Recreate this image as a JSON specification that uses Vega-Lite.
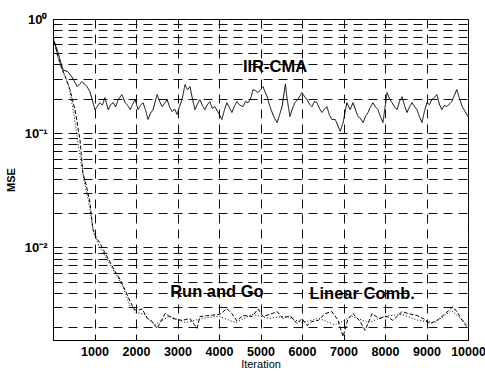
{
  "$schema": "https://vega.github.io/schema/vega-lite/v6.json",
  "autosize": {"type": "none"},
  "padding": {"left": 53, "top": 19, "right": 17, "bottom": 31},
  "width": 415,
  "height": 321,
  "background": "white",
  "config": {
    "view": {"stroke": "black", "strokeWidth": 1},
    "font": "Liberation Sans",
    "axis": {
      "domainColor": "black",
      "tickColor": "black",
      "labelColor": "black",
      "titleColor": "black",
      "gridColor": "#111",
      "gridDash": [9, 6],
      "gridWidth": 1,
      "gridOpacity": 1,
      "labelFont": "Liberation Sans",
      "titleFont": "Liberation Sans",
      "labelFontWeight": "bold",
      "labelFontSize": 12.5,
      "titleFontSize": 11,
      "titleFontWeight": "normal"
    }
  },
  "datasets": {
    "curves": [
      {"series": "IIR-CMA", "iteration": 0, "mse": 0.66},
      {"series": "IIR-CMA", "iteration": 100, "mse": 0.54},
      {"series": "IIR-CMA", "iteration": 170, "mse": 0.44},
      {"series": "IIR-CMA", "iteration": 240, "mse": 0.36},
      {"series": "IIR-CMA", "iteration": 360, "mse": 0.345},
      {"series": "IIR-CMA", "iteration": 460, "mse": 0.31},
      {"series": "IIR-CMA", "iteration": 580, "mse": 0.256},
      {"series": "IIR-CMA", "iteration": 700, "mse": 0.283},
      {"series": "IIR-CMA", "iteration": 820, "mse": 0.256},
      {"series": "IIR-CMA", "iteration": 890, "mse": 0.231},
      {"series": "IIR-CMA", "iteration": 1010, "mse": 0.161},
      {"series": "IIR-CMA", "iteration": 1070, "mse": 0.172},
      {"series": "IIR-CMA", "iteration": 1130, "mse": 0.185},
      {"series": "IIR-CMA", "iteration": 1190, "mse": 0.176},
      {"series": "IIR-CMA", "iteration": 1250, "mse": 0.205},
      {"series": "IIR-CMA", "iteration": 1330, "mse": 0.161},
      {"series": "IIR-CMA", "iteration": 1390, "mse": 0.178},
      {"series": "IIR-CMA", "iteration": 1450, "mse": 0.185},
      {"series": "IIR-CMA", "iteration": 1510, "mse": 0.17},
      {"series": "IIR-CMA", "iteration": 1570, "mse": 0.197},
      {"series": "IIR-CMA", "iteration": 1660, "mse": 0.218},
      {"series": "IIR-CMA", "iteration": 1740, "mse": 0.185},
      {"series": "IIR-CMA", "iteration": 1800, "mse": 0.175},
      {"series": "IIR-CMA", "iteration": 1860, "mse": 0.161},
      {"series": "IIR-CMA", "iteration": 1920, "mse": 0.18},
      {"series": "IIR-CMA", "iteration": 1980, "mse": 0.197},
      {"series": "IIR-CMA", "iteration": 2050, "mse": 0.161},
      {"series": "IIR-CMA", "iteration": 2110, "mse": 0.176},
      {"series": "IIR-CMA", "iteration": 2170, "mse": 0.185},
      {"series": "IIR-CMA", "iteration": 2230, "mse": 0.16},
      {"series": "IIR-CMA", "iteration": 2290, "mse": 0.132},
      {"series": "IIR-CMA", "iteration": 2350, "mse": 0.15},
      {"series": "IIR-CMA", "iteration": 2410, "mse": 0.161},
      {"series": "IIR-CMA", "iteration": 2510, "mse": 0.218},
      {"series": "IIR-CMA", "iteration": 2570, "mse": 0.19},
      {"series": "IIR-CMA", "iteration": 2630, "mse": 0.171},
      {"series": "IIR-CMA", "iteration": 2690, "mse": 0.183},
      {"series": "IIR-CMA", "iteration": 2750, "mse": 0.197},
      {"series": "IIR-CMA", "iteration": 2810, "mse": 0.17},
      {"series": "IIR-CMA", "iteration": 2870, "mse": 0.155},
      {"series": "IIR-CMA", "iteration": 2930, "mse": 0.163},
      {"series": "IIR-CMA", "iteration": 2990, "mse": 0.146},
      {"series": "IIR-CMA", "iteration": 3050, "mse": 0.172},
      {"series": "IIR-CMA", "iteration": 3110, "mse": 0.197},
      {"series": "IIR-CMA", "iteration": 3180, "mse": 0.266},
      {"series": "IIR-CMA", "iteration": 3240, "mse": 0.24},
      {"series": "IIR-CMA", "iteration": 3300, "mse": 0.256},
      {"series": "IIR-CMA", "iteration": 3360, "mse": 0.2},
      {"series": "IIR-CMA", "iteration": 3420, "mse": 0.161},
      {"series": "IIR-CMA", "iteration": 3480, "mse": 0.18},
      {"series": "IIR-CMA", "iteration": 3540, "mse": 0.197},
      {"series": "IIR-CMA", "iteration": 3600, "mse": 0.175},
      {"series": "IIR-CMA", "iteration": 3660, "mse": 0.161},
      {"series": "IIR-CMA", "iteration": 3720, "mse": 0.178},
      {"series": "IIR-CMA", "iteration": 3780, "mse": 0.189},
      {"series": "IIR-CMA", "iteration": 3840, "mse": 0.165},
      {"series": "IIR-CMA", "iteration": 3900, "mse": 0.171},
      {"series": "IIR-CMA", "iteration": 3990, "mse": 0.15},
      {"series": "IIR-CMA", "iteration": 4070, "mse": 0.132},
      {"series": "IIR-CMA", "iteration": 4130, "mse": 0.16},
      {"series": "IIR-CMA", "iteration": 4190, "mse": 0.185},
      {"series": "IIR-CMA", "iteration": 4250, "mse": 0.168},
      {"series": "IIR-CMA", "iteration": 4310, "mse": 0.152},
      {"series": "IIR-CMA", "iteration": 4370, "mse": 0.172},
      {"series": "IIR-CMA", "iteration": 4430, "mse": 0.189},
      {"series": "IIR-CMA", "iteration": 4500, "mse": 0.176},
      {"series": "IIR-CMA", "iteration": 4580, "mse": 0.171},
      {"series": "IIR-CMA", "iteration": 4640, "mse": 0.19},
      {"series": "IIR-CMA", "iteration": 4700, "mse": 0.185},
      {"series": "IIR-CMA", "iteration": 4760, "mse": 0.2},
      {"series": "IIR-CMA", "iteration": 4820, "mse": 0.241},
      {"series": "IIR-CMA", "iteration": 4880, "mse": 0.236},
      {"series": "IIR-CMA", "iteration": 4940, "mse": 0.227},
      {"series": "IIR-CMA", "iteration": 5000, "mse": 0.24},
      {"series": "IIR-CMA", "iteration": 5060, "mse": 0.256},
      {"series": "IIR-CMA", "iteration": 5110, "mse": 0.23},
      {"series": "IIR-CMA", "iteration": 5160, "mse": 0.209},
      {"series": "IIR-CMA", "iteration": 5220, "mse": 0.175},
      {"series": "IIR-CMA", "iteration": 5280, "mse": 0.152},
      {"series": "IIR-CMA", "iteration": 5340, "mse": 0.135},
      {"series": "IIR-CMA", "iteration": 5400, "mse": 0.124},
      {"series": "IIR-CMA", "iteration": 5460, "mse": 0.145},
      {"series": "IIR-CMA", "iteration": 5520, "mse": 0.171},
      {"series": "IIR-CMA", "iteration": 5600, "mse": 0.27},
      {"series": "IIR-CMA", "iteration": 5640, "mse": 0.2},
      {"series": "IIR-CMA", "iteration": 5710, "mse": 0.14},
      {"series": "IIR-CMA", "iteration": 5770, "mse": 0.165},
      {"series": "IIR-CMA", "iteration": 5830, "mse": 0.185},
      {"series": "IIR-CMA", "iteration": 5910, "mse": 0.2},
      {"series": "IIR-CMA", "iteration": 6000, "mse": 0.227},
      {"series": "IIR-CMA", "iteration": 6060, "mse": 0.21},
      {"series": "IIR-CMA", "iteration": 6120, "mse": 0.197},
      {"series": "IIR-CMA", "iteration": 6180, "mse": 0.18},
      {"series": "IIR-CMA", "iteration": 6240, "mse": 0.171},
      {"series": "IIR-CMA", "iteration": 6300, "mse": 0.19},
      {"series": "IIR-CMA", "iteration": 6360, "mse": 0.185},
      {"series": "IIR-CMA", "iteration": 6420, "mse": 0.165},
      {"series": "IIR-CMA", "iteration": 6480, "mse": 0.152},
      {"series": "IIR-CMA", "iteration": 6540, "mse": 0.162},
      {"series": "IIR-CMA", "iteration": 6600, "mse": 0.171},
      {"series": "IIR-CMA", "iteration": 6660, "mse": 0.145},
      {"series": "IIR-CMA", "iteration": 6720, "mse": 0.132},
      {"series": "IIR-CMA", "iteration": 6800, "mse": 0.132},
      {"series": "IIR-CMA", "iteration": 6860, "mse": 0.118},
      {"series": "IIR-CMA", "iteration": 6920, "mse": 0.104},
      {"series": "IIR-CMA", "iteration": 6990, "mse": 0.124},
      {"series": "IIR-CMA", "iteration": 7080, "mse": 0.185},
      {"series": "IIR-CMA", "iteration": 7160, "mse": 0.161},
      {"series": "IIR-CMA", "iteration": 7230, "mse": 0.185},
      {"series": "IIR-CMA", "iteration": 7290, "mse": 0.16},
      {"series": "IIR-CMA", "iteration": 7350, "mse": 0.14},
      {"series": "IIR-CMA", "iteration": 7410, "mse": 0.135},
      {"series": "IIR-CMA", "iteration": 7470, "mse": 0.124},
      {"series": "IIR-CMA", "iteration": 7530, "mse": 0.14},
      {"series": "IIR-CMA", "iteration": 7590, "mse": 0.152},
      {"series": "IIR-CMA", "iteration": 7650, "mse": 0.17},
      {"series": "IIR-CMA", "iteration": 7710, "mse": 0.185},
      {"series": "IIR-CMA", "iteration": 7770, "mse": 0.17},
      {"series": "IIR-CMA", "iteration": 7830, "mse": 0.161},
      {"series": "IIR-CMA", "iteration": 7890, "mse": 0.14},
      {"series": "IIR-CMA", "iteration": 7950, "mse": 0.124},
      {"series": "IIR-CMA", "iteration": 8050, "mse": 0.227},
      {"series": "IIR-CMA", "iteration": 8110, "mse": 0.2},
      {"series": "IIR-CMA", "iteration": 8170, "mse": 0.185},
      {"series": "IIR-CMA", "iteration": 8230, "mse": 0.17},
      {"series": "IIR-CMA", "iteration": 8290, "mse": 0.161},
      {"series": "IIR-CMA", "iteration": 8350, "mse": 0.19},
      {"series": "IIR-CMA", "iteration": 8410, "mse": 0.209},
      {"series": "IIR-CMA", "iteration": 8470, "mse": 0.175},
      {"series": "IIR-CMA", "iteration": 8530, "mse": 0.152},
      {"series": "IIR-CMA", "iteration": 8590, "mse": 0.17},
      {"series": "IIR-CMA", "iteration": 8650, "mse": 0.185},
      {"series": "IIR-CMA", "iteration": 8710, "mse": 0.172},
      {"series": "IIR-CMA", "iteration": 8770, "mse": 0.161},
      {"series": "IIR-CMA", "iteration": 8830, "mse": 0.14},
      {"series": "IIR-CMA", "iteration": 8890, "mse": 0.124},
      {"series": "IIR-CMA", "iteration": 8950, "mse": 0.155},
      {"series": "IIR-CMA", "iteration": 9010, "mse": 0.185},
      {"series": "IIR-CMA", "iteration": 9070, "mse": 0.178},
      {"series": "IIR-CMA", "iteration": 9130, "mse": 0.197},
      {"series": "IIR-CMA", "iteration": 9190, "mse": 0.205},
      {"series": "IIR-CMA", "iteration": 9250, "mse": 0.218},
      {"series": "IIR-CMA", "iteration": 9310, "mse": 0.18},
      {"series": "IIR-CMA", "iteration": 9370, "mse": 0.161},
      {"series": "IIR-CMA", "iteration": 9430, "mse": 0.175},
      {"series": "IIR-CMA", "iteration": 9490, "mse": 0.171},
      {"series": "IIR-CMA", "iteration": 9550, "mse": 0.18},
      {"series": "IIR-CMA", "iteration": 9610, "mse": 0.189},
      {"series": "IIR-CMA", "iteration": 9670, "mse": 0.215},
      {"series": "IIR-CMA", "iteration": 9730, "mse": 0.241},
      {"series": "IIR-CMA", "iteration": 9800, "mse": 0.2},
      {"series": "IIR-CMA", "iteration": 9860, "mse": 0.171},
      {"series": "IIR-CMA", "iteration": 9930, "mse": 0.155},
      {"series": "IIR-CMA", "iteration": 10000, "mse": 0.14},

      {"series": "Run and Go", "iteration": 0, "mse": 0.72},
      {"series": "Run and Go", "iteration": 100, "mse": 0.5},
      {"series": "Run and Go", "iteration": 200, "mse": 0.38},
      {"series": "Run and Go", "iteration": 300, "mse": 0.31},
      {"series": "Run and Go", "iteration": 410, "mse": 0.24},
      {"series": "Run and Go", "iteration": 530, "mse": 0.16},
      {"series": "Run and Go", "iteration": 650, "mse": 0.088},
      {"series": "Run and Go", "iteration": 720, "mse": 0.045},
      {"series": "Run and Go", "iteration": 800, "mse": 0.035},
      {"series": "Run and Go", "iteration": 890, "mse": 0.025},
      {"series": "Run and Go", "iteration": 960, "mse": 0.0145},
      {"series": "Run and Go", "iteration": 1050, "mse": 0.012},
      {"series": "Run and Go", "iteration": 1130, "mse": 0.011},
      {"series": "Run and Go", "iteration": 1250, "mse": 0.009},
      {"series": "Run and Go", "iteration": 1370, "mse": 0.0075},
      {"series": "Run and Go", "iteration": 1490, "mse": 0.0062},
      {"series": "Run and Go", "iteration": 1610, "mse": 0.0053},
      {"series": "Run and Go", "iteration": 1730, "mse": 0.0043},
      {"series": "Run and Go", "iteration": 1855, "mse": 0.0034},
      {"series": "Run and Go", "iteration": 1950, "mse": 0.0029},
      {"series": "Run and Go", "iteration": 2020, "mse": 0.0028},
      {"series": "Run and Go", "iteration": 2150, "mse": 0.0029},
      {"series": "Run and Go", "iteration": 2270, "mse": 0.0024},
      {"series": "Run and Go", "iteration": 2390, "mse": 0.00225},
      {"series": "Run and Go", "iteration": 2510, "mse": 0.00196},
      {"series": "Run and Go", "iteration": 2700, "mse": 0.00264},
      {"series": "Run and Go", "iteration": 2890, "mse": 0.00239},
      {"series": "Run and Go", "iteration": 3110, "mse": 0.0023},
      {"series": "Run and Go", "iteration": 3300, "mse": 0.00239},
      {"series": "Run and Go", "iteration": 3470, "mse": 0.00196},
      {"series": "Run and Go", "iteration": 3540, "mse": 0.00249},
      {"series": "Run and Go", "iteration": 3780, "mse": 0.00254},
      {"series": "Run and Go", "iteration": 4020, "mse": 0.0026},
      {"series": "Run and Go", "iteration": 4190, "mse": 0.00292},
      {"series": "Run and Go", "iteration": 4310, "mse": 0.00264},
      {"series": "Run and Go", "iteration": 4430, "mse": 0.00228},
      {"series": "Run and Go", "iteration": 4580, "mse": 0.00254},
      {"series": "Run and Go", "iteration": 4800, "mse": 0.00249},
      {"series": "Run and Go", "iteration": 4940, "mse": 0.0029},
      {"series": "Run and Go", "iteration": 5060, "mse": 0.00249},
      {"series": "Run and Go", "iteration": 5280, "mse": 0.00264},
      {"series": "Run and Go", "iteration": 5400, "mse": 0.00275},
      {"series": "Run and Go", "iteration": 5540, "mse": 0.00239},
      {"series": "Run and Go", "iteration": 5710, "mse": 0.00254},
      {"series": "Run and Go", "iteration": 5880, "mse": 0.00216},
      {"series": "Run and Go", "iteration": 6000, "mse": 0.00239},
      {"series": "Run and Go", "iteration": 6120, "mse": 0.00208},
      {"series": "Run and Go", "iteration": 6240, "mse": 0.00225},
      {"series": "Run and Go", "iteration": 6390, "mse": 0.0023},
      {"series": "Run and Go", "iteration": 6560, "mse": 0.00264},
      {"series": "Run and Go", "iteration": 6720, "mse": 0.00275},
      {"series": "Run and Go", "iteration": 6870, "mse": 0.0023},
      {"series": "Run and Go", "iteration": 6990, "mse": 0.00166},
      {"series": "Run and Go", "iteration": 7110, "mse": 0.00239},
      {"series": "Run and Go", "iteration": 7230, "mse": 0.00264},
      {"series": "Run and Go", "iteration": 7400, "mse": 0.00225},
      {"series": "Run and Go", "iteration": 7520, "mse": 0.00188},
      {"series": "Run and Go", "iteration": 7690, "mse": 0.00264},
      {"series": "Run and Go", "iteration": 7850, "mse": 0.00239},
      {"series": "Run and Go", "iteration": 8050, "mse": 0.00249},
      {"series": "Run and Go", "iteration": 8190, "mse": 0.0023},
      {"series": "Run and Go", "iteration": 8410, "mse": 0.00275},
      {"series": "Run and Go", "iteration": 8560, "mse": 0.00264},
      {"series": "Run and Go", "iteration": 8770, "mse": 0.00254},
      {"series": "Run and Go", "iteration": 8920, "mse": 0.00239},
      {"series": "Run and Go", "iteration": 9090, "mse": 0.00216},
      {"series": "Run and Go", "iteration": 9250, "mse": 0.0023},
      {"series": "Run and Go", "iteration": 9400, "mse": 0.00254},
      {"series": "Run and Go", "iteration": 9640, "mse": 0.00304},
      {"series": "Run and Go", "iteration": 9760, "mse": 0.00264},
      {"series": "Run and Go", "iteration": 9880, "mse": 0.00225},
      {"series": "Run and Go", "iteration": 10000, "mse": 0.00196},

      {"series": "Linear Comb.", "iteration": 0, "mse": 0.7},
      {"series": "Linear Comb.", "iteration": 120, "mse": 0.46},
      {"series": "Linear Comb.", "iteration": 250, "mse": 0.34},
      {"series": "Linear Comb.", "iteration": 380, "mse": 0.26},
      {"series": "Linear Comb.", "iteration": 500, "mse": 0.15},
      {"series": "Linear Comb.", "iteration": 620, "mse": 0.075},
      {"series": "Linear Comb.", "iteration": 740, "mse": 0.04},
      {"series": "Linear Comb.", "iteration": 850, "mse": 0.026},
      {"series": "Linear Comb.", "iteration": 980, "mse": 0.0135},
      {"series": "Linear Comb.", "iteration": 1100, "mse": 0.0105},
      {"series": "Linear Comb.", "iteration": 1250, "mse": 0.0085},
      {"series": "Linear Comb.", "iteration": 1400, "mse": 0.0068},
      {"series": "Linear Comb.", "iteration": 1550, "mse": 0.0056},
      {"series": "Linear Comb.", "iteration": 1700, "mse": 0.0044},
      {"series": "Linear Comb.", "iteration": 1850, "mse": 0.0031},
      {"series": "Linear Comb.", "iteration": 2000, "mse": 0.0027},
      {"series": "Linear Comb.", "iteration": 2200, "mse": 0.0026},
      {"series": "Linear Comb.", "iteration": 2450, "mse": 0.0021},
      {"series": "Linear Comb.", "iteration": 2800, "mse": 0.0025},
      {"series": "Linear Comb.", "iteration": 3200, "mse": 0.0022},
      {"series": "Linear Comb.", "iteration": 3600, "mse": 0.0024},
      {"series": "Linear Comb.", "iteration": 4000, "mse": 0.0025},
      {"series": "Linear Comb.", "iteration": 4400, "mse": 0.0022},
      {"series": "Linear Comb.", "iteration": 4800, "mse": 0.0026},
      {"series": "Linear Comb.", "iteration": 5200, "mse": 0.0024},
      {"series": "Linear Comb.", "iteration": 5600, "mse": 0.0025},
      {"series": "Linear Comb.", "iteration": 6000, "mse": 0.0022},
      {"series": "Linear Comb.", "iteration": 6400, "mse": 0.0024},
      {"series": "Linear Comb.", "iteration": 6800, "mse": 0.0021},
      {"series": "Linear Comb.", "iteration": 7200, "mse": 0.0025},
      {"series": "Linear Comb.", "iteration": 7600, "mse": 0.0022},
      {"series": "Linear Comb.", "iteration": 8000, "mse": 0.0025},
      {"series": "Linear Comb.", "iteration": 8400, "mse": 0.0026},
      {"series": "Linear Comb.", "iteration": 8800, "mse": 0.0023},
      {"series": "Linear Comb.", "iteration": 9200, "mse": 0.0022},
      {"series": "Linear Comb.", "iteration": 9600, "mse": 0.0028},
      {"series": "Linear Comb.", "iteration": 10000, "mse": 0.0021}
    ],
    "labels": [
      {"text": "IIR-CMA", "iteration": 5350, "mse": 0.38},
      {"text": "Run and Go", "iteration": 3950, "mse": 0.0041},
      {"text": "Linear Comb.", "iteration": 7450, "mse": 0.0039}
    ]
  },
  "layer": [
    {
      "data": {"name": "curves"},
      "mark": {"type": "line", "color": "black", "strokeWidth": 1, "clip": true},
      "encoding": {
        "x": {
          "field": "iteration",
          "type": "quantitative",
          "title": "Iteration",
          "scale": {"domain": [0, 10000], "nice": false},
          "axis": {
            "values": [1000, 2000, 3000, 4000, 5000, 6000, 7000, 8000, 9000, 10000],
            "format": "d",
            "grid": true,
            "tickSize": -5,
            "labelPadding": 10,
            "titlePadding": 1,
            "labelFlush": false
          }
        },
        "y": {
          "field": "mse",
          "type": "quantitative",
          "title": "MSE",
          "scale": {"type": "log", "domain": [0.00155, 1], "nice": false},
          "axis": {
            "values": [0.002, 0.003, 0.004, 0.005, 0.006, 0.007, 0.008, 0.009, 0.01, 0.02, 0.03, 0.04, 0.05, 0.06, 0.07, 0.08, 0.09, 0.1, 0.2, 0.3, 0.4, 0.5, 0.6, 0.7, 0.8, 0.9, 1],
            "labelExpr": "datum.value == 1 ? '10⁰' : datum.value == 0.1 ? '10⁻¹' : datum.value == 0.01 ? '10⁻²' : ''",
            "grid": true,
            "tickSize": -4,
            "labelPadding": 10,
            "labelFontSize": 13,
            "titleFontWeight": "bold",
            "titlePadding": 8
          }
        },
        "detail": {"field": "series"},
        "strokeDash": {
          "field": "series",
          "type": "nominal",
          "scale": {"domain": ["IIR-CMA", "Run and Go", "Linear Comb."], "range": [[1, 0], [4, 2], [1, 2]]},
          "legend": null
        }
      }
    },
    {
      "data": {"name": "labels"},
      "mark": {"type": "text", "font": "Liberation Sans", "fontWeight": "bold", "fontSize": 16.5, "color": "black"},
      "encoding": {
        "x": {"field": "iteration", "type": "quantitative"},
        "y": {"field": "mse", "type": "quantitative"},
        "text": {"field": "text"}
      }
    }
  ]
}
